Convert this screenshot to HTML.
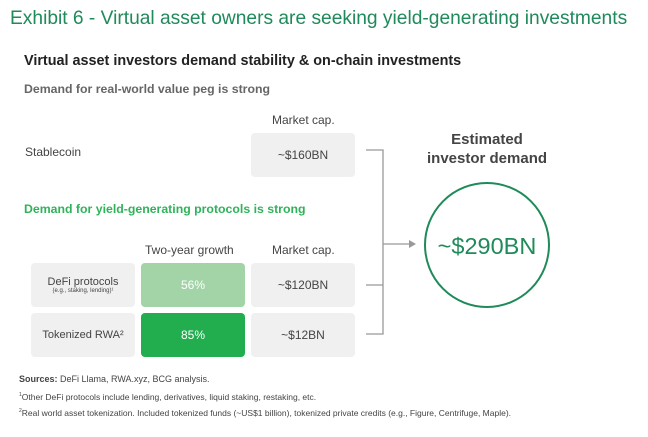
<!DOCTYPE html>
<html><head><style>
body{margin:0;width:648px;height:437px;background:#fff;font-family:"Liberation Sans",sans-serif;position:relative;overflow:hidden;color:#333}
.a{position:absolute;white-space:nowrap}
.box{position:absolute;background:#f0f0f0;border-radius:4px;display:flex;align-items:center;justify-content:center;flex-direction:column;font-size:12px;color:#444}
</style></head><body>
<div class="a" style="left:10px;top:8px;font-size:19.2px;color:#1f8a5a">Exhibit 6 - Virtual asset owners are seeking yield-generating investments</div>
<div class="a" style="left:24px;top:53px;font-size:14.4px;font-weight:bold;color:#222">Virtual asset investors demand stability &amp; on-chain investments</div>
<div class="a" style="left:24px;top:82px;font-size:12.3px;font-weight:bold;color:#666">Demand for real-world value peg is strong</div>
<div class="a" style="left:272px;top:113px;font-size:12px;color:#444">Market cap.</div>
<div class="a" style="left:25px;top:145px;font-size:12px;color:#444">Stablecoin</div>
<div class="box" style="left:251px;top:133px;width:104px;height:44px">~$160BN</div>
<div class="a" style="left:24px;top:202px;font-size:12.3px;font-weight:bold;color:#2fb35a">Demand for yield-generating protocols is strong</div>
<div class="a" style="left:145px;top:243px;font-size:12px;color:#444">Two-year growth</div>
<div class="a" style="left:272px;top:243px;font-size:12px;color:#444">Market cap.</div>
<div class="box" style="left:31px;top:263px;width:104px;height:44px;font-size:11px">DeFi protocols<span style="font-size:6px">(e.g., staking, lending)¹</span></div>
<div class="box" style="left:141px;top:263px;width:104px;height:44px;background:#a3d4a8;color:#fff">56%</div>
<div class="box" style="left:251px;top:263px;width:104px;height:44px">~$120BN</div>
<div class="box" style="left:31px;top:313px;width:104px;height:44px;font-size:11px">Tokenized RWA²</div>
<div class="box" style="left:141px;top:313px;width:104px;height:44px;background:#22ad4f;color:#fff">85%</div>
<div class="box" style="left:251px;top:313px;width:104px;height:44px">~$12BN</div>
<svg class="a" style="left:0;top:0" width="648" height="437">
<g stroke="#999" stroke-width="1.3" fill="none">
<path d="M366 150H383V334H366M366 285H383M383 244H410"/>
</g>
<path d="M416 244L409 240V248Z" fill="#999"/>
<circle cx="487" cy="245" r="62" fill="none" stroke="#1f8a5a" stroke-width="2"/>
<text x="487" y="254" text-anchor="middle" font-size="23.5" fill="#1f8a5a" font-family="Liberation Sans">~$290BN</text>
<text x="487" y="144" text-anchor="middle" font-size="15" font-weight="bold" fill="#444" font-family="Liberation Sans">Estimated</text>
<text x="487" y="163" text-anchor="middle" font-size="15" font-weight="bold" fill="#444" font-family="Liberation Sans">investor demand</text>
</svg>
<div class="a" style="left:19px;top:374px;font-size:9px;color:#444"><b>Sources:</b> DeFi Llama, RWA.xyz, BCG analysis.</div>
<div class="a" style="left:19px;top:392px;font-size:8.5px;color:#444"><sup style="font-size:5px">1</sup>Other DeFi protocols include lending, derivatives, liquid staking, restaking, etc.</div>
<div class="a" style="left:19px;top:408px;font-size:8.5px;color:#444"><sup style="font-size:5px">2</sup>Real world asset tokenization. Included tokenized funds (~US$1 billion), tokenized private credits (e.g., Figure, Centrifuge, Maple).</div>
</body></html>
